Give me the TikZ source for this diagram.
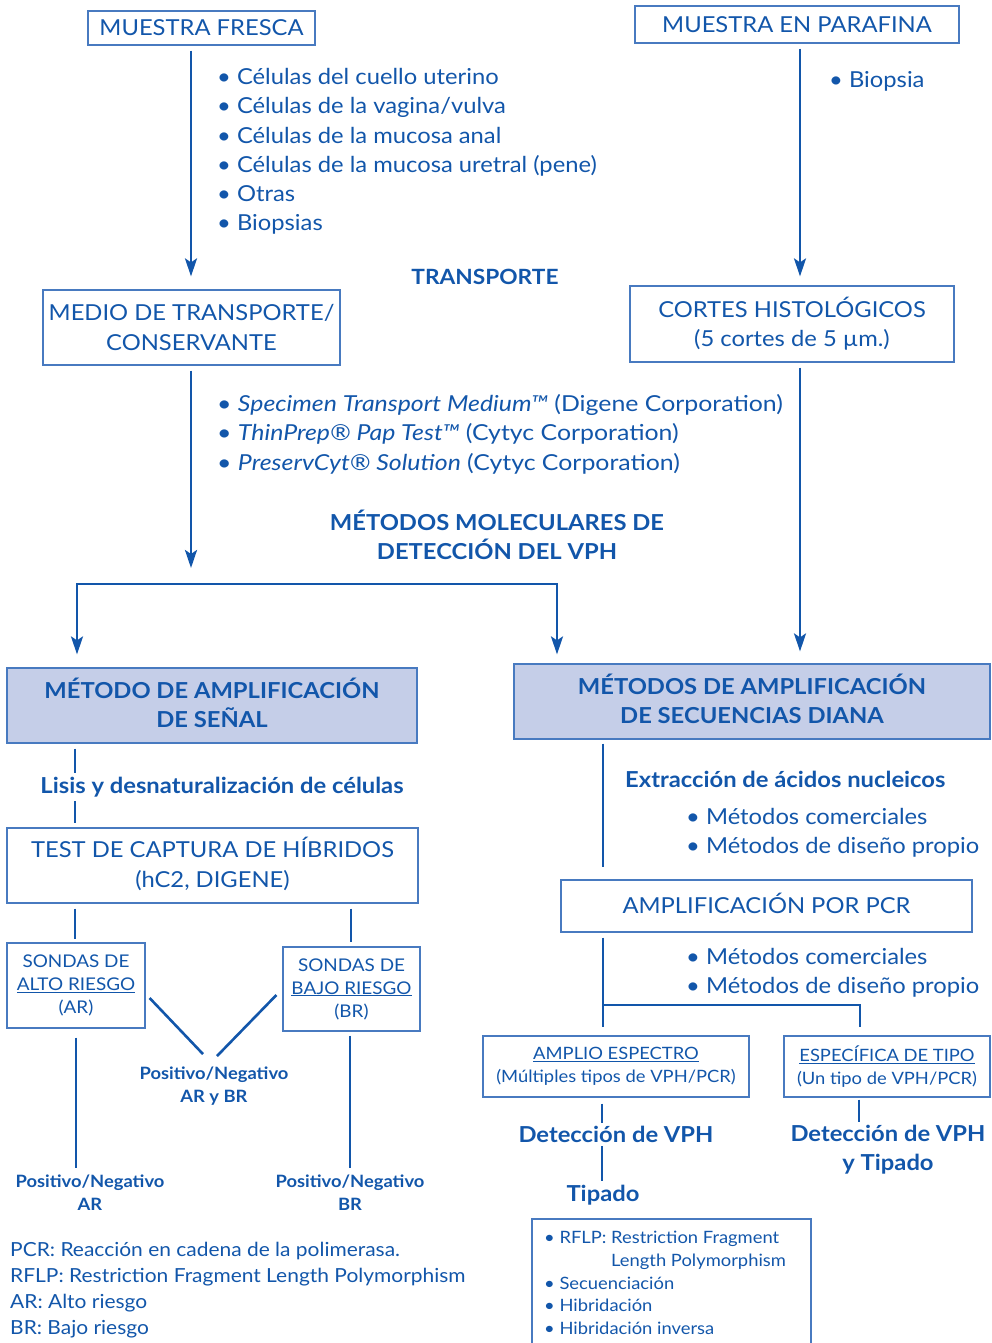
\documentclass[tikz,border=0pt]{standalone}
\usepackage{fontspec}
\setmainfont{Lato}[FakeStretch=1.08]
\newfontfamily\widefont[FakeStretch=1.13]{Lato}
\usetikzlibrary{arrows.meta}
\definecolor{ink}{RGB}{18,86,170}
\definecolor{frame}{RGB}{72,122,192}
\definecolor{shade}{RGB}{197,206,232}
\begin{document}
\begin{tikzpicture}[x=1pt,y=-1pt,
  txt/.style={text=ink, inner sep=0pt, align=center},
  plainbox/.style={draw=frame, line width=1.2pt, text=ink, inner sep=0pt, align=center},
  headbox/.style={plainbox, fill=shade},
  conn/.style={draw=ink, line width=2.6pt},
  tip/.tip={Stealth[length=18pt,width=12pt,inset=4pt]},
  arrowconn/.style={conn, -tip},
  fbig/.style={font=\fontsize{22}{29.3}\selectfont},
  fwide/.style={font=\fontsize{22}{29.5}\selectfont\widefont},
  fbold/.style={font=\fontsize{22}{29.3}\selectfont\bfseries},
  fmid/.style={font=\fontsize{17.5}{23}\selectfont},
  fsmall/.style={font=\fontsize{17}{23}\selectfont},
  fsmallbold/.style={font=\fontsize{17}{23}\selectfont\bfseries},
  flegend/.style={font=\fontsize{19.4}{26}\selectfont},
  flist/.style={font=\fontsize{17}{22.75}\selectfont},
]
\useasboundingbox (0,0) rectangle (992,1343);

% ---- sample sources ----
\node[plainbox, fbig, minimum width=227pt, minimum height=34pt] (fresca) at (201.5,28) {MUESTRA FRESCA};
\node[plainbox, fbig, minimum width=324pt, minimum height=37pt] (parafina) at (797,24.5) {MUESTRA EN PARAFINA};

\node[txt, fbig, align=left, anchor=west] (freshlist) at (217,151.5)
  {• Células del cuello uterino\\
   • Células de la vagina/vulva\\
   • Células de la mucosa anal\\
   • Células de la mucosa uretral (pene)\\
   • Otras\\
   • Biopsias};
\node[txt, fbig, anchor=west] (biopsia) at (829,81) {• Biopsia};

\node[txt, font=\fontsize{21}{24}\selectfont\bfseries] (transporte) at (485,277) {TRANSPORTE};

\node[plainbox, fbig, minimum width=297pt, minimum height=75pt] (medio) at (191.5,327.5)
  {MEDIO DE TRANSPORTE/\\CONSERVANTE};
\node[plainbox, fbig, minimum width=324pt, minimum height=76pt] (cortes) at (792,324)
  {CORTES HISTOLÓGICOS\\(5 cortes de 5 µm.)};

\node[txt, fwide, align=left, anchor=west] (medios) at (217,434)
  {• \textit{Specimen Transport Medium™} (Digene Corporation)\\
   • \textit{ThinPrep® Pap Test™} (Cytyc Corporation)\\
   • \textit{PreservCyt® Solution} (Cytyc Corporation)};

\node[txt, fbold] (molec) at (497,535) {MÉTODOS MOLECULARES DE\\DETECCIÓN DEL VPH};

% ---- the two families of methods ----
\node[headbox, minimum width=410pt, minimum height=75pt] (senal) at (212,705.5) {};
\node[txt, fbold] at (212,702.5) {MÉTODO DE AMPLIFICACIÓN\\DE SEÑAL};
\node[headbox, minimum width=476pt, minimum height=75pt] (diana) at (752,701.5) {};
\node[txt, fbold] at (752,698.5) {MÉTODOS DE AMPLIFICACIÓN\\DE SECUENCIAS DIANA};

% ---- signal amplification branch ----
\node[txt, fbold] (lisis) at (222,787) {Lisis y desnaturalización de células};
\node[plainbox, minimum width=411pt, minimum height=75pt] (captura) at (212.5,865.5) {};
\node[txt, fbig] at (212.5,864) {TEST DE CAPTURA DE HÍBRIDOS\\(hC2, DIGENE)};
\node[plainbox, fmid, minimum width=138pt, minimum height=85pt] (alto) at (76,985.5)
  {SONDAS DE\\\underline{ALTO RIESGO}\\(AR)};
\node[plainbox, fmid, minimum width=137pt, minimum height=84pt] (bajo) at (351.5,989)
  {SONDAS DE\\\underline{BAJO RIESGO}\\(BR)};
\node[txt, fsmallbold] (pnboth) at (214,1086.5) {Positivo/Negativo\\AR y BR};
\node[txt, fsmallbold] (pnar) at (90,1192.5) {Positivo/Negativo\\AR};
\node[txt, fsmallbold] (pnbr) at (350,1192.5) {Positivo/Negativo\\BR};

\node[txt, flegend, align=left, anchor=west] (legend) at (10,1290)
  {PCR: Reacción en cadena de la polimerasa.\\
   RFLP: Restriction Fragment Length Polymorphism\\
   AR: Alto riesgo\\
   BR: Bajo riesgo};

% ---- target amplification branch ----
\node[txt, fbold, anchor=west] (extraccion) at (625,779) {Extracción de ácidos nucleicos};
\node[txt, fbig, align=left, anchor=west] (extmet) at (686,832.5)
  {• Métodos comerciales\\• Métodos de diseño propio};
\node[plainbox, minimum width=411pt, minimum height=52pt] (pcr) at (766.5,906) {};
\node[txt, fbig] at (766.5,903) {AMPLIFICACIÓN POR PCR};
\node[txt, fbig, align=left, anchor=west] (pcrmet) at (686,973)
  {• Métodos comerciales\\• Métodos de diseño propio};
\node[plainbox, fsmall, minimum width=266pt, minimum height=61pt] (amplio) at (616,1066.5)
  {\underline{AMPLIO ESPECTRO}\\(Múltiples tipos de VPH/PCR)};
\node[plainbox, fsmall, minimum width=206pt, minimum height=61pt] (especifica) at (887,1066.5)
  {\underline{ESPECÍFICA DE TIPO}\\(Un tipo de VPH/PCR)};
\node[txt, fbold] (det1) at (616,1134) {Detección de VPH};
\node[txt, fbold] (tipado) at (603,1195) {Tipado};
\node[txt, fbold] (det2) at (888,1150) {Detección de VPH\\y Tipado};

\begin{scope}
  \clip (0,0) rectangle (992,1343);
  \draw[draw=frame, line width=1.2pt] (532,1219) rectangle (811,1360);
\end{scope}
\node[txt, flist, align=left, anchor=north west] (typing) at (544,1231)
  {• RFLP: Restriction Fragment\\
   \hspace*{67pt}Length Polymorphism\\
   • Secuenciación\\
   • Hibridación\\
   • Hibridación inversa};

% ---- connector columns ----
\coordinate (cA) at (191,0);
\coordinate (cB) at (800,0);
\coordinate (cL) at (77,584);
\coordinate (cR) at (557,584);
\coordinate (cM) at (191,584);
\coordinate (xa) at (75,0);
\coordinate (xb) at (351,0);
\coordinate (xc) at (603,0);
\coordinate (xd) at (860,0);

\draw[arrowconn, shorten <=5pt, shorten >=13pt] (fresca.south -| cA) -- (medio.north -| cA);
\draw[arrowconn, shorten <=5pt, shorten >=9pt] (parafina.south -| cB) -- (cortes.north -| cB);
\draw[arrowconn, shorten <=5pt, shorten >=16pt] (medio.south -| cA) -- (cM);
\draw[conn, tip-tip, shorten <=13pt, shorten >=9pt]
  (senal.north -| cL) -- (cL) -- (cR) -- (diana.north -| cR);
\draw[arrowconn, shorten <=5pt, shorten >=12pt] (cortes.south -| cB) -- (diana.north -| cB);

\draw[conn, shorten <=5pt, shorten >=4pt] (senal.south -| xa) -- (lisis.north -| xa);
\draw[conn, shorten <=4pt, shorten >=4pt] (lisis.south -| xa) -- (captura.north -| xa);
\draw[conn, shorten <=5pt, shorten >=3pt] (captura.south -| xa) -- (alto.north -| xa);
\draw[conn, shorten <=5pt, shorten >=4pt] (captura.south -| xb) -- (bajo.north -| xb);
\draw[conn] (alto.east |- 0,998) ++(4pt,0) -- ([shift={(-11pt,13pt)}]pnboth.north);
\draw[conn] (bajo.west |- 0,995) ++(-6pt,0) -- ([shift={(3pt,11pt)}]pnboth.north);
\draw[conn, shorten <=9pt, shorten >=6pt] (alto.south -| 76,0) -- (pnar.north -| 76,0);
\draw[conn, shorten <=4pt, shorten >=6pt] (bajo.south -| 350,0) -- (pnbr.north -| 350,0);

\draw[conn, shorten <=4pt, shorten >=12pt] (diana.south -| xc) -- (pcr.north -| xc);
\draw[conn, shorten <=5pt, shorten >=8pt] (pcr.south -| xc) -- (amplio.north -| xc);
\draw[conn, shorten >=8pt] (xc |- 0,1005) -- (xd |- 0,1005) -- (especifica.north -| xd);
\draw[conn, shorten <=6pt, shorten >=3pt] (amplio.south -| 602,0) -- (det1.north -| 602,0);
\draw[conn, shorten <=4pt, shorten >=4pt] (det1.south -| 602,0) -- (tipado.north -| 602,0);
\draw[conn, shorten <=2pt, shorten >=3pt] (especifica.south -| 859,0) -- (det2.north -| 859,0);
\end{tikzpicture}
\end{document}
